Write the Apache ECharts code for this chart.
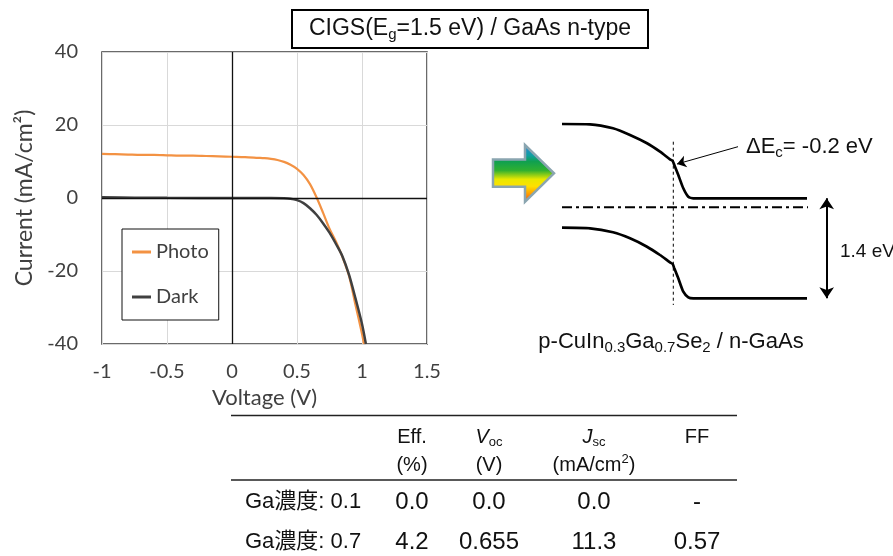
<!DOCTYPE html>
<html>
<head>
<meta charset="utf-8">
<script src="https://cdn.jsdelivr.net/npm/echarts@6/dist/echarts.min.js"></script>
<style>
  html, body { margin: 0; padding: 0; background: #fff; }
  #main { width: 893px; height: 556px; }
</style>
</head>
<body>
<div id="main"></div>
<script>
// I-V curves (V, mA/cm2)
const voltagePhoto = [-1, -0.9, -0.8, -0.7, -0.6, -0.5, -0.4, -0.3, -0.2, -0.1, 0, 0.1, 0.2, 0.25, 0.3, 0.35, 0.4, 0.45, 0.5, 0.55, 0.6, 0.65, 0.7, 0.75, 0.8, 0.85, 0.9, 0.95, 1.0, 1.015];
const currentPhoto = [12.1, 12.0, 11.9, 11.8, 11.8, 11.7, 11.6, 11.6, 11.5, 11.4, 11.3, 11.2, 11.0, 10.9, 10.7, 10.4, 9.9, 9.1, 8.0, 6.3, 3.8, 0.2, -4.0, -8.4, -12.0, -16.2, -21.3, -29.3, -37.2, -40];
const voltageDark = [-1, -0.75, -0.5, 0, 0.3, 0.4, 0.45, 0.5, 0.55, 0.6, 0.65, 0.7, 0.75, 0.8, 0.85, 0.9, 0.95, 1.0, 1.03];
const currentDark = [0.2, 0.1, 0.05, 0, -0.02, -0.08, -0.2, -0.6, -1.4, -2.8, -4.6, -6.9, -9.5, -12.6, -16.0, -21.0, -27.5, -34.5, -40];

// band diagram (diagram units, y grows downward)
const bandX = [82, 110, 133, 150, 167, 180, 190, 192.7, 194.3, 198.3, 203.3, 208.3, 213.3, 327];
const condBand = [24, 24.3, 28.3, 35, 43.3, 51.7, 59.3, 61, 65, 75, 88.3, 96.7, 98.3, 98.3];
const valBand = [127.7, 128.3, 132.3, 138.3, 146.7, 155, 162.3, 164, 168.3, 178.3, 191.7, 197.3, 198.3, 198.3];
const fermiX = [82, 328];
const fermiY = 107.3;
const interfaceX = 193.3;
const interfaceY = [41.7, 205];
const deltaArrow = [[258, 46.7], [197, 64]];
const gapArrow = [[346.7, 98.3], [346.7, 198.3]];

// table
const rowLabels = ['Ga濃度: 0.1', 'Ga濃度: 0.7'];
const effValues = ['0.0', '4.2'];
const vocValues = ['0.0', '0.655'];
const jscValues = ['0.0', '11.3'];
const ffValues = ['-', '0.57'];

const axisFont = 'Lato';
const arial = '"Liberation Sans", Arial, "Noto Sans CJK JP", sans-serif';

const chart = echarts.init(document.getElementById('main'));

function txt(x, y, text, rich, align) {
    return {
        type: 'text', x: x, y: y, silent: true,
        style: { text: text, rich: rich, align: align || 'center', verticalAlign: 'middle' }
    };
}

const colX = [412, 489, 594, 697];
const rowY = [502, 542];
const big = { fontSize: 24, fontFamily: arial, fill: '#111' };
const head = { fontSize: 20, fontFamily: arial, fill: '#111', lineHeight: 24 };
const headI = { fontSize: 20, fontFamily: arial, fill: '#111', lineHeight: 24, fontStyle: 'italic' };
const sub = { fontSize: 13, fontFamily: arial, fill: '#111', lineHeight: 13, verticalAlign: 'bottom' };
const sup = { fontSize: 13, fontFamily: arial, fill: '#111', lineHeight: 13, verticalAlign: 'top' };

let tableGraphic = [
    { type: 'line', silent: true, shape: { x1: 231, y1: 415.5, x2: 737, y2: 415.5 }, style: { stroke: '#222', lineWidth: 1.5 } },
    { type: 'line', silent: true, shape: { x1: 231, y1: 480, x2: 737, y2: 480 }, style: { stroke: '#222', lineWidth: 1.5 } },
    txt(colX[0], 437, '{a|Eff.}', { a: head }),
    txt(colX[0], 465, '{a|(%)}', { a: head }),
    txt(colX[1], 437, '{i|V}{s|oc}', { i: headI, s: sub }),
    txt(colX[1], 465, '{a|(V)}', { a: head }),
    txt(colX[2], 437, '{i|J}{s|sc}', { i: headI, s: sub }),
    txt(colX[2], 465, '{a|(mA/cm}{p|2}{a|)}', { a: head, p: sup }),
    txt(colX[3], 437, '{a|FF}', { a: head })
];
rowLabels.forEach(function (lab, i) {
    tableGraphic.push(txt(245, rowY[i], '{a|' + lab + '}', { a: { fontSize: 22, fontFamily: arial, fill: '#111' } }, 'left'));
    [effValues, vocValues, jscValues, ffValues].forEach(function (vals, j) {
        tableGraphic.push(txt(colX[j], rowY[i], '{a|' + vals[i] + '}', { a: big }));
    });
});

const option = {
    animation: false,
    grid: [
        { left: 102, top: 52, width: 325, height: 292, show: true, borderColor: '#3a3a3a', borderWidth: 1.5 },
        { left: 480, top: 100, width: 413, height: 260, show: false }
    ],
    xAxis: [
        {
            gridIndex: 0, type: 'value', min: -1, max: 1.5, interval: 0.5,
            name: 'Voltage (V)', nameLocation: 'middle', nameGap: 42,
            nameTextStyle: { fontFamily: axisFont, fontSize: 22, color: '#404040' },
            axisLine: { show: false }, axisTick: { show: false },
            axisLabel: { fontFamily: axisFont, fontSize: 20, color: '#404040', margin: 18 },
            splitLine: { lineStyle: { color: '#d9d9d9', width: 1 } }
        },
        { gridIndex: 1, type: 'value', min: 0, max: 413, show: false }
    ],
    yAxis: [
        {
            gridIndex: 0, type: 'value', min: -40, max: 40, interval: 20,
            name: 'Current (mA/cm²)', nameLocation: 'middle', nameGap: 66,
            nameTextStyle: { fontFamily: axisFont, fontSize: 23, color: '#404040' },
            axisLine: { show: false }, axisTick: { show: false },
            axisLabel: { fontFamily: axisFont, fontSize: 20, color: '#404040', margin: 24 },
            splitLine: { lineStyle: { color: '#d9d9d9', width: 1 } }
        },
        { gridIndex: 1, type: 'value', min: 0, max: 260, inverse: true, show: false }
    ],
    legend: {
        data: ['Photo', 'Dark'],
        orient: 'vertical', left: 122, top: 229,
        padding: [12, 10, 12, 10], itemGap: 23,
        itemWidth: 19, itemHeight: 3, icon: 'rect',
        backgroundColor: '#fff', borderColor: '#111', borderWidth: 1,
        textStyle: { fontFamily: axisFont, fontSize: 20, color: '#404040', lineHeight: 22 }
    },
    series: [
        {
            name: 'Photo', type: 'line', smooth: 0.3, showSymbol: false, silent: true,
            data: voltagePhoto.map(function (v, i) { return [v, currentPhoto[i]]; }),
            lineStyle: { color: '#f39243', width: 2.2 }, itemStyle: { color: '#f39243' },
            markLine: {
                silent: true, symbol: 'none', label: { show: false },
                lineStyle: { color: '#111', width: 1.3, type: 'solid' },
                data: [{ xAxis: 0 }, { yAxis: 0 }]
            }
        },
        {
            name: 'Dark', type: 'line', smooth: 0.3, showSymbol: false, silent: true,
            data: voltageDark.map(function (v, i) { return [v, currentDark[i]]; }),
            lineStyle: { color: '#404040', width: 2.5 }, itemStyle: { color: '#404040' }
        },
        {
            name: 'CB', type: 'line', xAxisIndex: 1, yAxisIndex: 1, smooth: 0.2, showSymbol: false, silent: true,
            data: bandX.map(function (x, i) { return [x, condBand[i]]; }),
            lineStyle: { color: '#000', width: 2.7 },
            markLine: {
                silent: true, symbol: ['none', 'arrow'], symbolSize: 9, label: { show: false },
                lineStyle: { color: '#000', width: 1, type: 'solid' },
                data: [[{ coord: deltaArrow[0] }, { coord: deltaArrow[1] }]]
            }
        },
        {
            name: 'VB', type: 'line', xAxisIndex: 1, yAxisIndex: 1, smooth: 0.2, showSymbol: false, silent: true,
            data: bandX.map(function (x, i) { return [x, valBand[i]]; }),
            lineStyle: { color: '#000', width: 2.7 },
            markLine: {
                silent: true, symbol: ['arrow', 'arrow'], symbolSize: 11, label: { show: false },
                lineStyle: { color: '#000', width: 2, type: 'solid' },
                data: [[{ coord: gapArrow[0] }, { coord: gapArrow[1] }]]
            }
        },
        {
            name: 'Ef', type: 'line', xAxisIndex: 1, yAxisIndex: 1, showSymbol: false, silent: true,
            data: fermiX.map(function (x) { return [x, fermiY]; }),
            lineStyle: { color: '#000', width: 2, type: [10, 4, 3, 4] }
        },
        {
            name: 'interface', type: 'line', xAxisIndex: 1, yAxisIndex: 1, showSymbol: false, silent: true,
            data: interfaceY.map(function (y) { return [interfaceX, y]; }),
            lineStyle: { color: '#000', width: 1, type: [3, 3] }
        }
    ],
    graphic: [
        {
            type: 'rect', silent: true,
            shape: { x: 292, y: 10, width: 356, height: 38 },
            style: { fill: '#fff', stroke: '#000', lineWidth: 2 }
        },
        txt(470, 29, '{a|CIGS(E}{s|g}{a|=1.5 eV) / GaAs n-type}', {
            a: { fontSize: 23, fontFamily: arial, fill: '#111', lineHeight: 26 },
            s: { fontSize: 15, fontFamily: arial, fill: '#111', lineHeight: 14, verticalAlign: 'bottom' }
        }),
        {
            type: 'polygon', silent: true,
            shape: { points: [[493, 159.5], [525, 159.5], [525, 145], [554, 173.3], [525, 201.7], [525, 186.7], [493, 186.7]] },
            style: {
                stroke: '#8aa5b0', lineWidth: 2.5,
                fill: new echarts.graphic.LinearGradient(0, 0, 0, 1, [
                    { offset: 0, color: '#3080e0' },
                    { offset: 0.2, color: '#10a0a0' },
                    { offset: 0.3, color: '#10a050' },
                    { offset: 0.45, color: '#30b030' },
                    { offset: 0.6, color: '#e8e800' },
                    { offset: 0.72, color: '#ffe000' },
                    { offset: 0.85, color: '#ff9a00' },
                    { offset: 1, color: '#f04020' }
                ])
            }
        },
        txt(746, 147, '{a|ΔE}{s|c}{a|= -0.2 eV}', {
            a: { fontSize: 22, fontFamily: arial, fill: '#111', lineHeight: 26 },
            s: { fontSize: 15, fontFamily: arial, fill: '#111', lineHeight: 14, verticalAlign: 'bottom' }
        }, 'left'),
        txt(840, 252, '{a|1.4 eV}', { a: { fontSize: 19, fontFamily: arial, fill: '#111' } }, 'left'),
        txt(671, 342, '{a|p-CuIn}{s|0.3}{a|Ga}{s|0.7}{a|Se}{s|2}{a| / n-GaAs}', {
            a: { fontSize: 22, fontFamily: arial, fill: '#111', lineHeight: 26 },
            s: { fontSize: 15, fontFamily: arial, fill: '#111', lineHeight: 14, verticalAlign: 'bottom' }
        })
    ].concat(tableGraphic)
};

chart.setOption(option);
</script>
</body>
</html>
